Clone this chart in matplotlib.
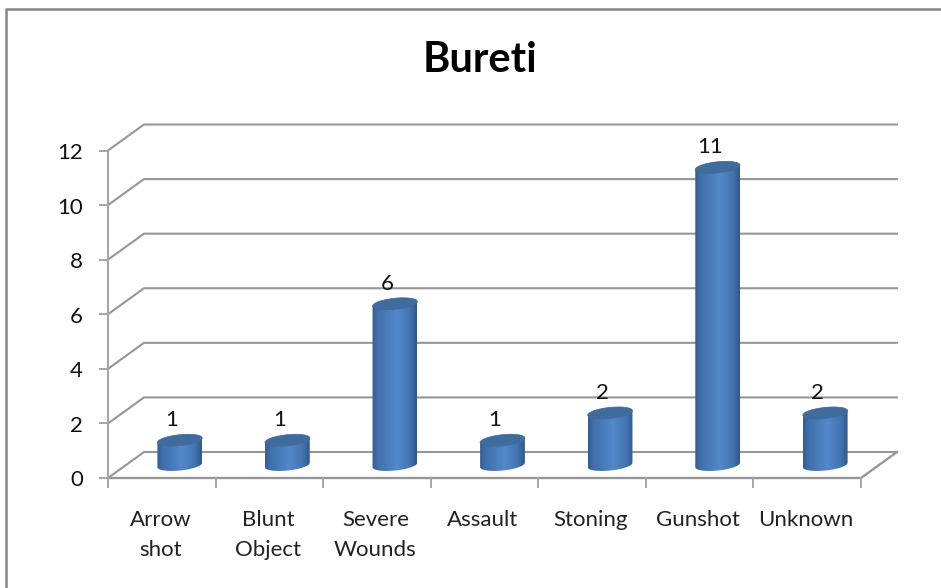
import numpy as np
import matplotlib
matplotlib.use("Agg")
import matplotlib.pyplot as plt
from matplotlib.colors import LinearSegmentedColormap
from matplotlib.patches import Polygon

title = "Bureti"
categories = ["Arrow\nshot", "Blunt\nObject", "Severe\nWounds", "Assault", "Stoning", "Gunshot", "Unknown"]
values = [1, 1, 6, 1, 2, 11, 2]
y_ticks = [0, 2, 4, 6, 8, 10, 12]

W, H = 941, 588
plt.rcParams['font.family'] = ['Lato', 'DejaVu Sans']
fig = plt.figure(figsize=(W / 100, H / 100), dpi=100)
L, R, T, B = 108, 861, 150.5, 478
ax = fig.add_axes([L / W, 1 - B / H, (R - L) / W, (B - T) / H])
ax.set_axis_off()
n = len(categories)
px_x = (R - L) / n
px_y = (B - T) / 12
depth_x, depth_y = 36 / px_x, 26 / px_y
GRID = "#969696"

# chart frame
fig.add_artist(plt.Line2D([6 / W, 6 / W, 1], [0, 1 - 9 / H, 1 - 9 / H],
                          color="#858585", lw=1.8, transform=fig.transFigure))
fig.text(480 / W, 1 - 60 / H, title, fontsize=30, fontweight='bold', ha='center', va='center', color='black')

# walls and gridlines
for v in y_ticks:
    ax.plot([0, depth_x, n + depth_x], [v, v + depth_y, v + depth_y], color=GRID, lw=1.5,
            clip_on=False, zorder=1, solid_joinstyle='miter')
ax.plot([0, n, n + depth_x], [0, 0, depth_y], color=GRID, lw=1.7, clip_on=False, zorder=1)
ax.plot([0, 0], [0, 12], color="#a6a6a6", lw=1.5, clip_on=False, zorder=1)

# axis ticks and labels
for v in y_ticks:
    ax.plot([-8 / px_x, 0], [v, v], color="#a6a6a6", lw=1.4, clip_on=False, zorder=1)
    ax.annotate(str(v), (0, v), xytext=(-25, -2.5), textcoords='offset pixels', ha='right', va='center',
                fontsize=16, color='#111111', annotation_clip=False)
for i in range(n + 1):
    ax.plot([i, i], [0, -9 / px_y], color="#a6a6a6", lw=1.4, clip_on=False, zorder=1)
for i, c in enumerate(categories):
    ax.annotate(c, (i + 0.5, 0), xytext=(-1.5, -32), textcoords='offset pixels', ha='center', va='top',
                fontsize=16, color='#222222', linespacing=1.6, annotation_clip=False)

# cylinders
cmap = LinearSegmentedColormap.from_list("cyl", [(0, "#345f94"), (0.12, "#3f70ab"), (0.55, "#5388cb"),
                                                 (0.85, "#4274b0"), (1, "#30598a")])
a, b, tilt = 22.5, 5.5, np.deg2rad(6)
top_shift = 2.5 / px_y
t = np.linspace(0, 2 * np.pi, 121)
ex = a * np.cos(t) * np.cos(tilt) - b * np.sin(t) * np.sin(tilt)
ey = a * np.cos(t) * np.sin(tilt) + b * np.sin(t) * np.cos(tilt)
grad = np.linspace(0, 1, 64)[None, :]
for i, v in enumerate(values):
    cx, base, top = i + 0.5 + depth_x / 2, depth_y / 2, v + depth_y / 2 - top_shift
    lower = np.arange(60, 121)          # lower half of the rim
    body_x = np.r_[cx + ex[lower] / px_x, cx + a * np.cos(tilt) / px_x, cx - a * np.cos(tilt) / px_x]
    body_y = np.r_[base + ey[lower] / px_y, top + a * np.sin(tilt) / px_y, top - a * np.sin(tilt) / px_y]
    body = Polygon(np.c_[body_x, body_y], closed=True, fc="none", ec="none", zorder=3)
    ax.add_patch(body)
    im = ax.imshow(grad, cmap=cmap, extent=[cx - a / px_x, cx + a / px_x, 0, top + 1], aspect='auto', zorder=3,
                   interpolation='bilinear')
    im.set_clip_path(body)
    ax.add_patch(Polygon(np.c_[cx + ex / px_x, top + ey / px_y], closed=True, fc="#3f6b9d", ec="#3f6b9d",
                         lw=0.5, zorder=4))
    ax.annotate(str(v), (cx, top), xytext=(-8, 20), textcoords='offset pixels', ha='center', va='center',
                fontsize=16, color='#111111', zorder=6, annotation_clip=False)

ax.set_xlim(0, n)
ax.set_ylim(0, 12)
fig.savefig("out.png", dpi=100)
